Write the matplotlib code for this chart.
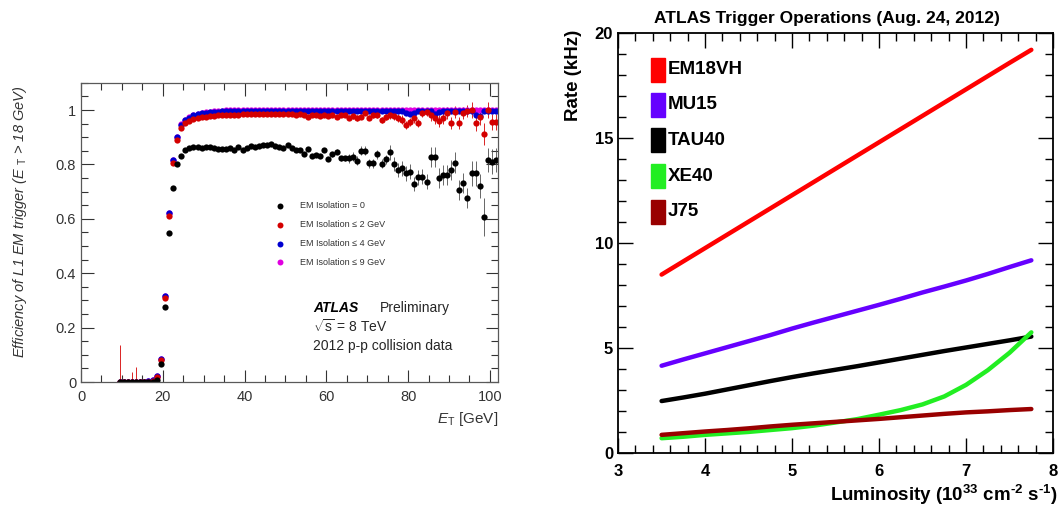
import numpy as np
import matplotlib
matplotlib.use("Agg")
import matplotlib.pyplot as plt
from matplotlib.patches import Rectangle
from matplotlib.ticker import MultipleLocator

plt.rcParams['font.family'] = ['Liberation Sans', 'DejaVu Sans']
plt.rcParams['mathtext.fontset'] = 'custom'
plt.rcParams['mathtext.rm'] = 'Liberation Sans'
plt.rcParams['mathtext.it'] = 'Liberation Sans:italic'
plt.rcParams['mathtext.bf'] = 'Liberation Sans:bold'

# ---- left panel: L1 EM trigger efficiency vs E_T (1 GeV bins, 9.5 ... 101.5)
et = np.arange(9.5, 102.0, 1.0)

eff_iso0 = ([0.0] * 9 +
            [0.008, 0.067, 0.275, 0.547, 0.714, 0.80, 0.83] +
            [0.853, 0.86, 0.863, 0.865, 0.86, 0.863, 0.863, 0.86, 0.858, 0.855,
             0.858, 0.86, 0.853, 0.863, 0.853, 0.862, 0.868, 0.865, 0.868, 0.87,
             0.871, 0.874, 0.868, 0.863, 0.86, 0.87, 0.86, 0.853, 0.853, 0.84,
             0.857, 0.83, 0.835, 0.832, 0.853, 0.82, 0.837, 0.847, 0.822, 0.822,
             0.822, 0.828, 0.813, 0.85, 0.85, 0.804, 0.804, 0.837, 0.802, 0.819,
             0.845, 0.802, 0.78, 0.786, 0.767, 0.773, 0.728, 0.753, 0.755, 0.737,
             0.826, 0.826, 0.749, 0.761, 0.761, 0.78, 0.807, 0.706, 0.731, 0.676,
             0.767, 0.767, 0.72, 0.608, 0.816, 0.81, 0.816])
err_iso0 = ([0.0] * 9 + [0.005] * 7 + [0.004] * 30 + [0.008] * 10 +
            [0.017] * 10 + [0.027] * 10 + [0.037] * 10 +
            [0.045, 0.045, 0.045, 0.07, 0.045, 0.045, 0.045])

eff_iso2 = ([0, 0, 0, 0, 0, 0, 0, 0, 0.004] +
            [0.02, 0.08, 0.31, 0.61, 0.805, 0.89, 0.933] +
            [0.952, 0.96, 0.966, 0.97, 0.973, 0.975, 0.977, 0.978, 0.98, 0.98,
             0.982, 0.981, 0.983, 0.982, 0.984, 0.985, 0.984, 0.986, 0.985, 0.986,
             0.987, 0.986, 0.987, 0.985, 0.986, 0.984, 0.985, 0.983, 0.984, 0.982,
             0.976, 0.98, 0.983, 0.979, 0.982, 0.978, 0.98, 0.975, 0.98, 0.982,
             0.972, 0.978, 0.97, 0.976] +
            [0.99, 0.972, 0.98, 0.982, 0.963, 0.975, 0.982, 0.978, 0.972, 0.965,
             0.945, 0.957, 0.969, 0.952, 0.988, 0.993, 0.98, 0.972, 0.959, 0.972,
             0.99, 0.952, 0.994, 0.951, 0.99, 0.997, 1.0, 0.951, 0.976, 0.912,
             1.0, 0.957, 0.957])
err_iso2 = ([0.135, 0.005, 0.005, 0.035, 0.055, 0.01, 0.005, 0.005, 0.005] +
            [0.004] * 7 + [0.003] * 30 + [0.005] * 10 + [0.01] * 10 +
            [0.015] * 10 + [0.022] * 10 +
            [0.03, 0.03, 0.03, 0.04, 0.03, 0.03, 0.03])

eff_iso4 = ([0, 0, 0, 0, 0, 0, 0, 0.003, 0.006] +
            [0.022, 0.085, 0.316, 0.62, 0.815, 0.90, 0.945] +
            [0.962, 0.972, 0.98, 0.985, 0.988, 0.99, 0.992, 0.993, 0.994, 0.995,
             0.995, 0.996, 0.996, 0.997, 0.997, 0.997, 0.998, 0.998, 0.998, 0.998] +
            [0.998] * 10 +
            [0.997, 0.998, 0.998, 0.997, 0.998, 0.997, 0.998, 0.997, 0.998, 0.998,
             0.997, 0.998, 0.996, 0.998, 0.998, 0.997, 0.998, 0.998, 0.995, 0.998,
             0.998, 0.998, 0.997, 0.996, 0.99, 0.985, 0.99, 0.998, 0.998, 0.998,
             0.998, 0.985, 0.992, 0.998, 0.998, 0.998, 0.998, 0.998, 0.998, 0.998,
             0.998, 0.982, 0.978, 0.998, 0.998, 0.998, 0.998])

eff_iso9 = ([0, 0, 0, 0, 0, 0, 0, 0.003, 0.006] +
            [0.022, 0.086, 0.318, 0.622, 0.817, 0.902, 0.947] +
            [0.964, 0.974, 0.982, 0.987, 0.99, 0.992, 0.994, 0.995, 0.996, 0.997] +
            [0.999] * 67)

iso_labels = ['EM Isolation = 0', 'EM Isolation \u2264 2 GeV',
              'EM Isolation \u2264 4 GeV', 'EM Isolation \u2264 9 GeV']
iso_colors = ['black', '#d40000', '#0000d0', '#e000e0']

# ---- right panel: trigger rates vs luminosity
lumi = [3.5, 3.75, 4.0, 4.25, 4.5, 4.75, 5.0, 5.25, 5.5,
        5.75, 6.0, 6.25, 6.5, 6.75, 7.0, 7.25, 7.5, 7.75]
rate_em18vh = [8.5, 9.13, 9.76, 10.39, 11.02, 11.65, 12.28, 12.91, 13.54,
               14.17, 14.8, 15.43, 16.06, 16.69, 17.32, 17.95, 18.58, 19.2]
rate_mu15 = [4.16, 4.46, 4.75, 5.04, 5.33, 5.62, 5.93, 6.22, 6.5,
             6.78, 7.06, 7.35, 7.65, 7.93, 8.22, 8.53, 8.86, 9.18]
rate_tau40 = [2.48, 2.65, 2.83, 3.03, 3.23, 3.43, 3.62, 3.8, 3.97,
              4.14, 4.32, 4.5, 4.68, 4.86, 5.03, 5.2, 5.37, 5.55]
rate_xe40 = [0.71, 0.78, 0.87, 0.94, 1.01, 1.1, 1.19, 1.31, 1.46,
             1.62, 1.83, 2.05, 2.32, 2.7, 3.25, 3.95, 4.78, 5.75]
rate_j75 = [0.87, 0.95, 1.03, 1.1, 1.18, 1.27, 1.35, 1.42, 1.49,
            1.56, 1.63, 1.71, 1.79, 1.87, 1.94, 1.99, 2.05, 2.1]

trig_names = ['EM18VH', 'MU15', 'TAU40', 'XE40', 'J75']
trig_rates = [rate_em18vh, rate_mu15, rate_tau40, rate_xe40, rate_j75]
trig_colors = ['#ff0000', '#6600ff', '#000000', '#22ee22', '#990000']

fig = plt.figure(figsize=(10.62, 5.08), dpi=100)

# ================= left
ax1 = fig.add_axes([0.0763, 0.248, 0.3927, 0.589])
series = [(eff_iso9, None, iso_colors[3]),
          (eff_iso4, None, iso_colors[2]),
          (eff_iso2, err_iso2, iso_colors[1]),
          (eff_iso0, err_iso0, iso_colors[0])]
for vals, errs, col in series:
    ax1.errorbar(et, vals, yerr=errs, fmt='o', color=col, ms=4.5,
                 mec='none', elinewidth=0.6, capsize=0,
                 ecolor=col if col != 'black' else '0.3')

ax1.set_xlim(0, 102)
ax1.set_ylim(0, 1.1)
ax1.xaxis.set_major_locator(MultipleLocator(20))
ax1.xaxis.set_minor_locator(MultipleLocator(5))
ax1.set_yticks([0, 0.2, 0.4, 0.6, 0.8, 1.0])
ax1.set_yticklabels(['0', '0.2', '0.4', '0.6', '0.8', '1'])
ax1.yaxis.set_minor_locator(MultipleLocator(0.05))
ax1.tick_params(which='both', direction='in', top=True, right=True,
                labelsize=10.5, colors='0.2')
ax1.tick_params(which='major', length=9, width=0.8)
ax1.tick_params(which='minor', length=5, width=0.8)
ax1.tick_params(axis='x', pad=6)
for sp in ax1.spines.values():
    sp.set_color('0.35')
    sp.set_linewidth(0.9)

ax1.set_xlabel(r'$E_{\rm T}$ [GeV]', fontsize=11, loc='right', color='0.2')
fig.text(20 / 1062, 1 - 85 / 508,
         r'Efficiency of L1 EM trigger ($E$ $_{\rm T}$ > 18 GeV)',
         rotation=90, ha='center', va='top', fontsize=10.5,
         style='italic', color='0.2')

leg_y = [0.589, 0.525, 0.462, 0.401]
for lab, col, yy in zip(iso_labels, iso_colors, leg_y):
    ax1.plot([0.477], [yy], 'o', color=col, ms=4.3, mec='none',
             transform=ax1.transAxes, clip_on=False)
    ax1.text(0.525, yy, lab, transform=ax1.transAxes, fontsize=6.5,
             va='center', color='0.2')

ax1.text(0.556, 0.247, 'ATLAS', transform=ax1.transAxes, fontsize=10,
         weight='bold', style='italic', va='center')
ax1.text(0.717, 0.247, 'Preliminary', transform=ax1.transAxes, fontsize=10,
         va='center', color='0.15')
ax1.text(0.556, 0.184, r'$\sqrt{\rm s}$ = 8 TeV', transform=ax1.transAxes,
         fontsize=10, va='center', color='0.15')
ax1.text(0.556, 0.12, '2012 p-p collision data', transform=ax1.transAxes,
         fontsize=10, va='center', color='0.15')

# ================= right
ax2 = fig.add_axes([0.582, 0.108, 0.4096, 0.827])
for rates, col in zip(trig_rates, trig_colors):
    ax2.plot(lumi, rates, '-', color=col, lw=3.2, solid_capstyle='round')

ax2.set_xlim(3, 8)
ax2.set_ylim(0, 20)
ax2.xaxis.set_major_locator(MultipleLocator(1))
ax2.xaxis.set_minor_locator(MultipleLocator(0.2))
ax2.yaxis.set_major_locator(MultipleLocator(5))
ax2.yaxis.set_minor_locator(MultipleLocator(1))
ax2.tick_params(which='both', direction='in', top=True, right=True,
                labelsize=12)
ax2.tick_params(which='major', length=11, width=1)
ax2.tick_params(which='minor', length=6, width=1)
ax2.tick_params(axis='x', pad=8)
for lab in ax2.get_xticklabels() + ax2.get_yticklabels():
    lab.set_fontweight('bold')
for sp in ax2.spines.values():
    sp.set_linewidth(1.3)

ax2.text(1.01, -0.1,
         'Luminosity (10$^{\\bf 33}$ cm$^{\\bf \u2010 2}$ s$^{\\bf \u2010 1}$)',
         transform=ax2.transAxes, ha='right', va='center', fontsize=13.5,
         weight='bold')
ax2.text(-0.103, 1.007, 'Rate (kHz)', transform=ax2.transAxes, rotation=90,
         ha='center', va='top', fontsize=13.5, weight='bold')
fig.text(827 / 1062, 1 - 18 / 508, 'ATLAS Trigger Operations (Aug. 24, 2012)',
         ha='center', va='center', fontsize=12.5, weight='bold')

leg2_y = [0.912, 0.829, 0.745, 0.659, 0.574]
for name, col, yy in zip(trig_names, trig_colors, leg2_y):
    ax2.add_patch(Rectangle((0.076, yy - 0.029), 0.032, 0.058,
                            transform=ax2.transAxes, color=col, clip_on=False))
    ax2.text(0.115, yy, name, transform=ax2.transAxes, fontsize=13.5,
             weight='bold', va='center')

fig.savefig('out.png', dpi=100)
